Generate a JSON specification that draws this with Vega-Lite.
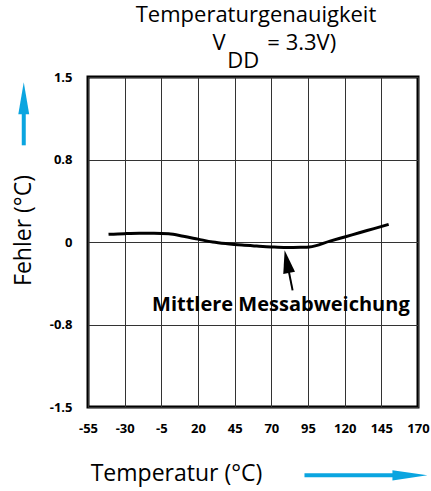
{
  "$schema": "https://vega.github.io/schema/vega-lite/v6.json",
  "width": 330,
  "height": 330,
  "autosize": {"type": "none"},
  "padding": {"left": 88, "top": 77, "right": 13, "bottom": 84},
  "config": {
    "font": "Open Sans",
    "view": {"stroke": "black", "strokeWidth": 3}
  },
  "title": {
    "text": "Temperaturgenauigkeit",
    "fontSize": 22,
    "fontWeight": "normal",
    "color": "black",
    "anchor": "middle",
    "baseline": "alphabetic",
    "dx": 3,
    "offset": -12
  },
  "datasets": {
    "curve": [
      {"T": -41, "v": 0.07},
      {"T": -30, "v": 0.076},
      {"T": -20, "v": 0.079},
      {"T": -10, "v": 0.079},
      {"T": 0, "v": 0.074},
      {"T": 10, "v": 0.052},
      {"T": 20, "v": 0.026},
      {"T": 30, "v": 0.0},
      {"T": 40, "v": -0.016},
      {"T": 50, "v": -0.028},
      {"T": 60, "v": -0.037},
      {"T": 70, "v": -0.045},
      {"T": 80, "v": -0.05},
      {"T": 90, "v": -0.048},
      {"T": 96, "v": -0.045},
      {"T": 110, "v": 0.008},
      {"T": 120, "v": 0.046},
      {"T": 130, "v": 0.084},
      {"T": 140, "v": 0.122},
      {"T": 150, "v": 0.16}
    ],
    "ann": [
      {"part": "blackShaft", "T": 80.6, "v": -0.178, "T2": 84.5, "v2": -0.44},
      {"part": "blackHead", "T": 80.6, "v": -0.178},
      {"part": "upShaft", "T": -98.8, "v": 0.879, "T2": -98.8, "v2": 1.3},
      {"part": "upHead", "T": -98.8, "v": 1.306},
      {"part": "rightShaft", "T": 92.6, "v": -2.121, "T2": 164, "v2": -2.121},
      {"part": "rightHead", "T": 164.5, "v": -2.121}
    ],
    "labels": [
      {"part": "note", "T": 76.5, "v": -0.575, "text": "Mittlere Messabweichung"},
      {"part": "V", "T": 29.9, "v": 1.745, "text": "V"},
      {"part": "DD", "T": 40.0, "v": 1.58, "text": "DD"},
      {"part": "eq", "T": 67.3, "v": 1.745, "text": "= 3.3V)"}
    ]
  },
  "encoding": {
    "x": {
      "field": "T",
      "type": "quantitative",
      "scale": {"domain": [-55, 170], "nice": false, "zero": false},
      "axis": {
        "values": [-55, -30, -5, 20, 45, 70, 95, 120, 145, 170],
        "labelExpr": "(datum.value < 0 ? '-' : '') + abs(datum.value)",
        "labelFontWeight": "bold",
        "labelFontSize": 13,
        "labelColor": "black",
        "labelPadding": 15,
        "labelOverlap": false,
        "labelFlush": false,
        "ticks": false,
        "domain": false,
        "grid": true,
        "gridColor": "#333333",
        "gridOpacity": 1,
        "gridWidth": 1,
        "title": "Temperatur (°C)",
        "titleFontSize": 23,
        "titleFontWeight": "normal",
        "titleColor": "black",
        "titleX": 88,
        "titleY": 73,
        "titleAlign": "center",
        "titleBaseline": "alphabetic"
      }
    },
    "y": {
      "field": "v",
      "type": "quantitative",
      "scale": {"domain": [-1.5, 1.5], "nice": false, "zero": false},
      "axis": {
        "values": [-1.5, -0.75, 0, 0.75, 1.5],
        "labelExpr": "datum.value == 0 ? '0' : (datum.value < 0 ? '-' : '') + format(abs(datum.value), '.1f')",
        "labelFontWeight": "bold",
        "labelFontSize": 13,
        "labelColor": "black",
        "labelPadding": 16,
        "labelOverlap": false,
        "labelFlush": false,
        "ticks": false,
        "domain": false,
        "grid": true,
        "gridColor": "#333333",
        "gridOpacity": 1,
        "gridWidth": 1,
        "title": "Fehler (°C)",
        "titleFontSize": 23,
        "titleFontWeight": "normal",
        "titleColor": "black",
        "titleAngle": -90,
        "titleX": -58,
        "titleY": 153,
        "titleAlign": "center",
        "titleBaseline": "alphabetic"
      }
    }
  },
  "layer": [
    {
      "data": {"name": "curve"},
      "mark": {"type": "line", "color": "black", "strokeWidth": 3, "interpolate": "monotone"}
    },
    {
      "data": {"name": "ann"},
      "transform": [{"filter": "datum.part == 'blackShaft'"}],
      "mark": {"type": "rule", "color": "black", "strokeWidth": 2},
      "encoding": {"x2": {"field": "T2"}, "y2": {"field": "v2"}}
    },
    {
      "data": {"name": "ann"},
      "transform": [{"filter": "datum.part == 'blackHead'"}],
      "mark": {"type": "point", "filled": true, "color": "black", "opacity": 1, "shape": "M0,-1L0.52,1L-0.52,1Z", "size": 529, "angle": -11.3}
    },
    {
      "data": {"name": "ann"},
      "transform": [{"filter": "datum.part == 'upShaft' || datum.part == 'rightShaft'"}],
      "mark": {"type": "rule", "color": "#0AA5E0", "strokeWidth": 4},
      "encoding": {"x2": {"field": "T2"}, "y2": {"field": "v2"}}
    },
    {
      "data": {"name": "ann"},
      "transform": [{"filter": "datum.part == 'upHead'"}],
      "mark": {"type": "point", "filled": true, "color": "#0AA5E0", "opacity": 1, "shape": "M0,-1L0.34,1L-0.34,1Z", "size": 1024, "angle": 0}
    },
    {
      "data": {"name": "ann"},
      "transform": [{"filter": "datum.part == 'rightHead'"}],
      "mark": {"type": "point", "filled": true, "color": "#0AA5E0", "opacity": 1, "shape": "M0,-1L0.29,1L-0.29,1Z", "size": 1225, "angle": 90}
    },
    {
      "data": {"name": "labels"},
      "transform": [{"filter": "datum.part == 'note'"}],
      "mark": {"type": "text", "fontSize": 20, "fontWeight": "bold", "color": "black", "align": "center", "baseline": "middle"},
      "encoding": {"text": {"field": "text"}}
    },
    {
      "data": {"name": "labels"},
      "transform": [{"filter": "datum.part != 'note'"}],
      "mark": {"type": "text", "fontSize": 22, "color": "black", "align": "left", "baseline": "alphabetic"},
      "encoding": {"text": {"field": "text"}}
    }
  ]
}
